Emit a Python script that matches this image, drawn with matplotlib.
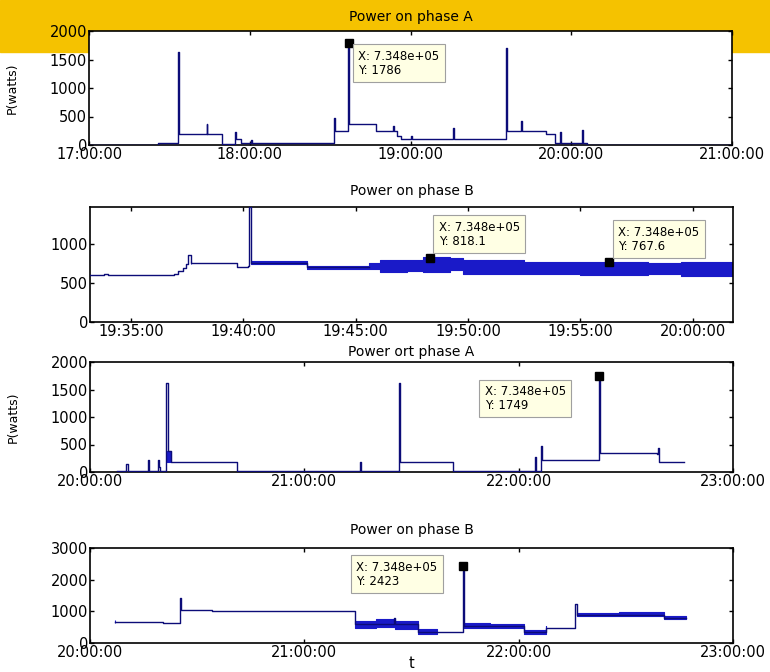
import numpy as np
from matplotlib import pyplot as plt
from matplotlib.patches import Rectangle

plt.rcParams['font.family'] = ['DejaVu Sans']

##############################################################################
##                 data (time in minutes after the first tick)
##############################################################################
# panel 1 : phase A, 17:00 - 21:00
t1 = [0, 25.6, 33.3, 33.6, 43.9, 44.2, 49.8, 54.5, 54.8, 56.8, 60.4, 60.8,
      91.5, 91.8, 96.7, 97.1, 107.2, 113.5, 113.8, 115.0, 116.3, 120.0, 120.4,
      135.8, 136.2, 155.7, 156.1, 161.2, 161.6, 170.4, 174.0, 175.9, 176.3,
      184.0, 184.4, 186.0, 240]
v1 = [0, 30, 1630, 190, 370, 190, 20, 220, 100, 30, 80, 30,
      470, 250, 1786, 360, 250, 330, 250, 150, 100, 150, 100,
      300, 100, 1700, 240, 420, 240, 200, 30, 220, 30,
      270, 30, 0, 0]
ticks1 = ['17:00:00', '18:00:00', '19:00:00', '20:00:00', '21:00:00']

# panel 2 : phase B, 19:33 - 20:02 (minutes after 19:35)
t2 = [-1.83, -1.2, -1.05, 1.9, 2.1, 2.3, 2.45, 2.55, 2.65, 4.7, 5.2, 5.25,
      5.35, 7.85, 10.6]
v2 = [600, 620, 600, 620, 650, 690, 740, 860, 760, 700, 720, 1480,
      760, 700, 700]
tb2 = [2.65, 4.7, 5.35, 7.85, 10.6, 11.1, 12.3, 13.0, 14.2, 14.8, 17.5, 20.0, 23.0, 24.5, 26.8]
lo2 = [740, np.nan, 745, 685, 680, 640, 650, 640, 660, 620, 610, 600, 610, 590, 600]
hi2 = [785, np.nan, 780, 720, 760, 800, 790, 830, 820, 790, 770, 770, 760, 770, 770]
ticks2 = ['19:35:00', '19:40:00', '19:45:00', '19:50:00', '19:55:00', '20:00:00']

# panel 3 : phase A, 20:00 - 23:00
t3 = [7.6, 10.2, 10.5, 16.2, 16.5, 19.0, 19.3, 19.7, 21.4, 21.7, 22.6,
      41.2, 75.5, 75.9, 86.4, 86.7, 101.5, 124.6, 124.9, 126.3, 126.6,
      142.4, 142.7, 158.6, 159.0, 159.3, 166.3]
v3 = [20, 150, 20, 220, 20, 220, 100, 20, 1620, 380, 180,
      20, 180, 20, 1620, 180, 20, 280, 20, 480, 220,
      1749, 350, 330, 430, 180, 180]
tb3 = [21.6, 22.6]
lo3 = [180, 180]
hi3 = [380, 380]
ticks3 = ['20:00:00', '21:00:00', '22:00:00', '23:00:00']

# panel 4 : phase B, 20:00 - 23:00
t4 = [6.95, 20.4, 25.2, 25.5, 34.2, 74.1, 85.0, 85.4, 91.9, 104.3, 104.6,
      121.5, 127.7, 135.9, 136.2, 160.7, 166.8]
v4 = [650, 620, 1420, 1050, 1000, 600, 800, 600, 350, 2423, 550,
      350, 460, 1240, 900, 800, 800]
tb4 = [6.95, 20.4, 74.1, 80.0, 85.5, 91.9, 97.0, 104.3, 104.6, 112.0, 121.5,
       127.7, 135.9, 136.2, 148.0, 160.7, 166.8]
lo4 = [620, np.nan, 470, 520, 440, 290, 270, np.nan, 470, 460, 270,
       400, np.nan, 850, 840, 760, 760]
hi4 = [720, np.nan, 700, 760, 710, 440, 420, np.nan, 620, 600, 420,
       530, np.nan, 960, 980, 840, 840]

# data tips  (x, y, label text, box x, box top)
tips1 = [(96.9, 1786, 'X: 7.348e+05\nY: 1786', 100.5, 1670)]
tips2 = [(13.3, 818.1, 'X: 7.348e+05\nY: 818.1', 13.7, 1300),
         (21.3, 767.6, 'X: 7.348e+05\nY: 767.6', 21.7, 1235)]
tips3 = [(142.5, 1749, 'X: 7.348e+05\nY: 1749', 110.5, 1580)]
tips4 = [(104.3, 2423, 'X: 7.348e+05\nY: 2423', 74.5, 2600)]

##############################################################################
LINE = '#0c0c78'
BAND = '#1a1ac8'
FS = 10.5

fig = plt.figure(figsize=(7.7, 6.72), dpi=100)
band = Rectangle((0, 1 - 52/672.), 1, 52/672., transform=fig.transFigure,
                 color='#f5c200', zorder=-5)
fig.add_artist(band)

def panel(rect, title, t, v, xlim, ylim, yticks, xticks, xlabels, tips,
          tb=None, lo=None, hi=None, ylabel=None, xlabel=None, tpad=6):
    ax = fig.add_axes(rect)
    ax.set_facecolor('white')
    ax.step(t, v, where='post', color=LINE, lw=1.0, zorder=3)
    if tb is not None:
        ax.fill_between(tb, lo, hi, step='post', color=BAND, lw=0.8, zorder=2)
    ax.set_xlim(xlim)
    ax.set_ylim(ylim)
    ax.set_yticks(yticks)
    ax.set_xticks(xticks)
    ax.set_xticklabels(xlabels)
    ax.tick_params(direction='in', top=True, right=True, labelsize=FS, length=3,
                   width=1, pad=1.5)
    for s in ax.spines.values():
        s.set_linewidth(1.2)
    ax.set_title(title, fontsize=FS - 0.5, pad=tpad)
    if ylabel:
        ax.set_ylabel(ylabel, fontsize=FS - 1.5)
        ax.yaxis.set_label_coords(-0.11, 0.5)
    if xlabel:
        ax.set_xlabel(xlabel, fontsize=FS, labelpad=-3)
    for (x, y, s, bx, by) in tips:
        ax.plot([x], [y], marker='s', ms=6, color='black', zorder=5)
        ax.text(bx, by, s, fontsize=FS - 2, va='top', ha='left', zorder=6,
                linespacing=1.1,
                bbox=dict(boxstyle='square,pad=0.45', fc='#ffffe4', ec='#a0a0a0', lw=0.8))
    return ax

W = 643/770.
panel([89/770., 1 - 145/672., W, 114/672.], 'Power on phase A', t1, v1,
      (0, 240), (0, 2000), [0, 500, 1000, 1500, 2000], [0, 60, 120, 180, 240],
      ticks1, tips1, ylabel='P(watts)', tpad=7)

panel([90/770., 1 - 322/672., W, 115.5/672.], 'Power on phase B', t2, v2,
      (-1.83, 26.8), (0, 1480), [0, 500, 1000], [0, 5, 10, 15, 20, 25],
      ticks2, tips2, tb=tb2, lo=lo2, hi=hi2, tpad=8)

panel([90/770., 1 - 472/672., W, 110/672.], 'Power ort phase A', t3, v3,
      (0, 180), (0, 2000), [0, 500, 1000, 1500, 2000], [0, 60, 120, 180],
      ticks3, tips3, tb=tb3, lo=lo3, hi=hi3, ylabel='P(watts)', tpad=4)

panel([90/770., 1 - 643/672., W, 95/672.], 'Power on phase B', t4, v4,
      (0, 180), (0, 3000), [0, 1000, 2000, 3000], [0, 60, 120, 180],
      ticks3, tips4, tb=tb4, lo=lo4, hi=hi4, xlabel='t', tpad=10)

plt.savefig('out.png', dpi=100)
